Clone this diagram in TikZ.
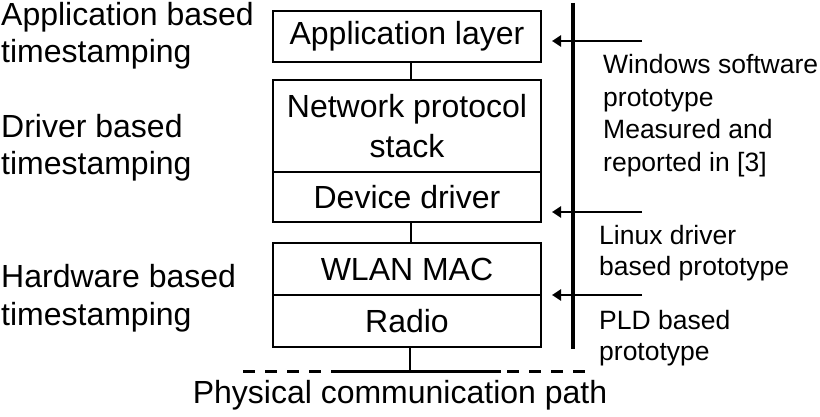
\documentclass[tikz,border=0pt]{standalone}
\usepackage{fontspec}
\setmainfont{Liberation Sans}
\usetikzlibrary{arrows.meta}
\begin{document}
\begin{tikzpicture}[x=1pt,y=-1pt,
  layerbox/.style={draw, line width=2.2pt, inner sep=0pt, minimum width=268pt, align=center,
    font=\fontsize{32}{40}\selectfont},
  sidetext/.style={anchor=base west, inner sep=0pt, align=left, font=\fontsize{32}{37.5}\selectfont},
  prototext/.style={anchor=base west, inner sep=0pt, align=left},
  link/.style={line width=2.4pt},
  tsarrow/.style={line width=2.6pt, -{Triangle[length=9pt,width=11pt]}}]
\useasboundingbox (0,0) rectangle (820,417);
% layer boxes
\node[layerbox, minimum height=51pt] (app) at (407,36.5) {Application layer};
\node[layerbox, minimum height=92pt] (net) at (407,126) {Network protocol\\stack};
\node[layerbox, minimum height=50pt] (drv) at (407,197) {Device driver};
\node[layerbox, minimum height=52pt] (mac) at (407,269) {WLAN MAC};
\node[layerbox, minimum height=52pt] (radio) at (407,321) {Radio};
% connectors between layers
\draw[link] ([xshift=4pt]app.south) -- ([xshift=4pt]net.north);
\draw[link] ([xshift=4pt]drv.south) -- ([xshift=4pt]mac.north);
\coordinate (gnd) at (410,371);
\draw[link] ([xshift=3pt]radio.south) -- (gnd);
% physical path
\coordinate (dl) at (243,371);
\coordinate (dr) at (590,371);
\coordinate (sl) at (342,371);
\coordinate (sr) at (501,371);
\draw[line width=3pt, dash pattern=on 12pt off 10pt] (dl) -- (dr);
\draw[line width=3pt] (sl) -- (sr);
\node[anchor=base, inner sep=0pt, font=\fontsize{32}{38}\selectfont] (phys) at (400,403) {Physical communication path};
% left labels (node base = last line baseline)
\node[sidetext] (lapp) at (1,63) {Application based\\timestamping};
\node[sidetext] (ldrv) at (1,175) {Driver based\\timestamping};
\node[sidetext] (lhw) at (1,325) {Hardware based\\timestamping};
% right vertical line and arrows
\coordinate (vt) at (573,3);
\coordinate (vb) at (573,349);
\draw[line width=3.2pt] (vt) -- (vb);
\coordinate (a1) at (642,41);
\coordinate (a2) at (642,212);
\coordinate (a3) at (642,295);
\draw[tsarrow] (a1) -- (a1 -| 552,0);
\draw[tsarrow] (a2) -- (a2 -| 552,0);
\draw[tsarrow] (a3) -- (a3 -| 552,0);
% right labels
\node[prototext, font=\fontsize{26.5}{33}\selectfont] (rwin) at (603,172) {Windows software\\prototype\\Measured and\\reported in [3]};
\node[prototext, font=\fontsize{26.5}{30.5}\selectfont] (rlin) at (599,275) {Linux driver\\based prototype};
\node[prototext, font=\fontsize{26.5}{31}\selectfont] (rpld) at (599,360) {PLD based\\prototype};
\end{tikzpicture}
\end{document}
